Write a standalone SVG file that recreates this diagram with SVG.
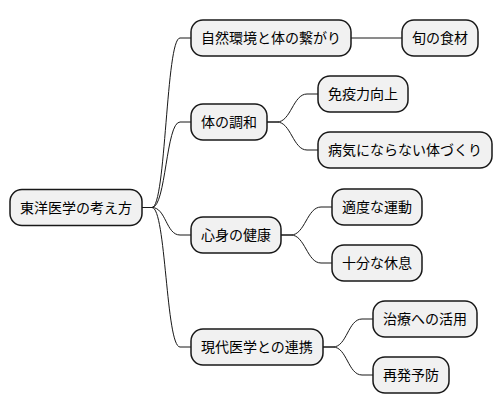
<svg xmlns="http://www.w3.org/2000/svg" width="502" height="415" viewBox="0 0 502 415">
<style>
.n rect{fill:#F1F1F1;stroke:#181818;stroke-width:1.5}
.n text{font-family:"Noto Sans CJK JP","Noto Sans",sans-serif;font-size:14px;fill:#000}
#edges path{fill:none;stroke:#181818;stroke-width:1}
</style>
<rect width="502" height="415" fill="#FFFFFF"/>
<g id="edges">
<path d="M142,207.5 H152 C166,207.5 166,38 180,38 H191"/>
<path d="M142,207.5 H152 C166,207.5 166,122 180,122 H191"/>
<path d="M142,207.5 H152 C166,207.5 166,235 180,235 H191"/>
<path d="M142,207.5 H152 C166,207.5 166,347 180,347 H191"/>
<path d="M351,38 H402"/>
<path d="M267,122 H277 C291,122 293,94 307,94 H318"/>
<path d="M267,122 H277 C291,122 293,150 307,150 H318"/>
<path d="M281,235 H291 C305,235 307,207 321,207 H332"/>
<path d="M281,235 H291 C305,235 307,263 321,263 H332"/>
<path d="M323,347 H333 C347,347 348,319 362,319 H373"/>
<path d="M323,347 H333 C347,347 348,375 362,375 H373"/>
</g>
<g id="root" class="n"><rect x="10" y="189.5" width="132" height="36" rx="12"/><text x="20" y="212.5">東洋医学の考え方</text></g>
<g id="n1" class="n"><rect x="191" y="20" width="160" height="36" rx="12"/><text x="201" y="43">自然環境と体の繋がり</text></g>
<g id="n1a" class="n"><rect x="402" y="20" width="76" height="36" rx="12"/><text x="412" y="43">旬の食材</text></g>
<g id="n2" class="n"><rect x="191" y="104" width="76" height="36" rx="12"/><text x="201" y="127">体の調和</text></g>
<g id="n2a" class="n"><rect x="318" y="76" width="90" height="36" rx="12"/><text x="328" y="99">免疫力向上</text></g>
<g id="n2b" class="n"><rect x="318" y="132" width="174" height="36" rx="12"/><text x="328" y="155">病気にならない体づくり</text></g>
<g id="n3" class="n"><rect x="191" y="217" width="90" height="36" rx="12"/><text x="201" y="240">心身の健康</text></g>
<g id="n3a" class="n"><rect x="332" y="189" width="90" height="36" rx="12"/><text x="342" y="212">適度な運動</text></g>
<g id="n3b" class="n"><rect x="332" y="245" width="90" height="36" rx="12"/><text x="342" y="268">十分な休息</text></g>
<g id="n4" class="n"><rect x="191" y="329" width="132" height="36" rx="12"/><text x="201" y="352">現代医学との連携</text></g>
<g id="n4a" class="n"><rect x="373" y="301" width="104" height="36" rx="12"/><text x="383" y="324">治療への活用</text></g>
<g id="n4b" class="n"><rect x="373" y="357" width="76" height="36" rx="12"/><text x="383" y="380">再発予防</text></g>
</svg>
